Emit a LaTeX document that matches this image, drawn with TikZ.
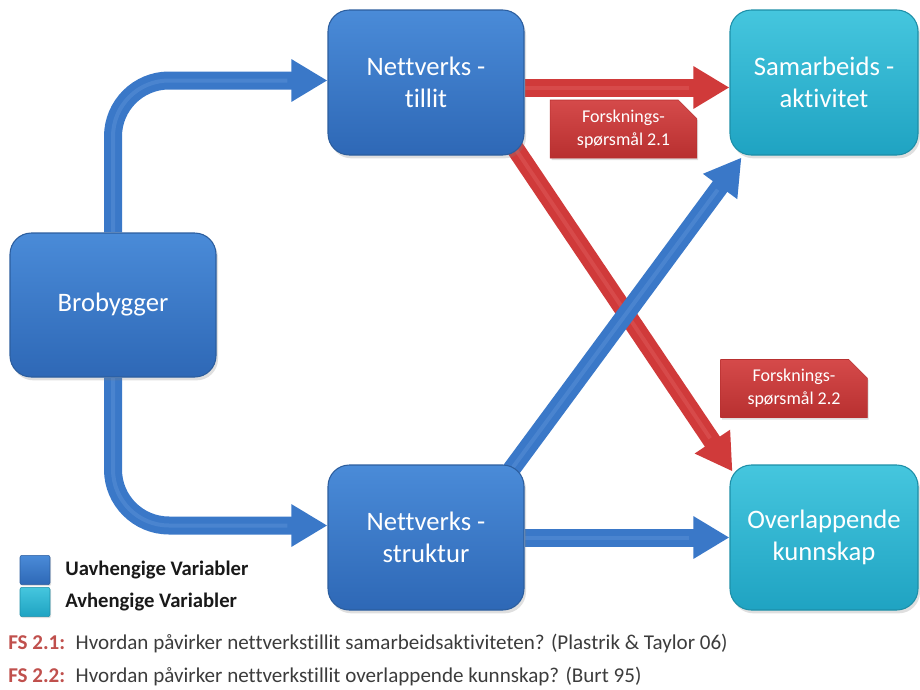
\documentclass[tikz,border=0pt]{standalone}
\usepackage{fontspec}
\setmainfont{Carlito}[Ligatures=NoCommon]
\usetikzlibrary{arrows.meta,calc,shadows,backgrounds,shapes.misc}

\definecolor{bluetop}{HTML}{4A8BD8}
\definecolor{bluebot}{HTML}{2E68B6}
\definecolor{blueedge}{HTML}{2C5E9E}
\definecolor{cyantop}{HTML}{45C6DE}
\definecolor{cyanbot}{HTML}{1FA3C2}
\definecolor{cyanedge}{HTML}{1D8FA8}
\definecolor{arrowblue}{HTML}{3A78C8}
\definecolor{arrowbluelight}{HTML}{6FA2E2}
\definecolor{arrowred}{HTML}{D03A3A}
\definecolor{arrowredlight}{HTML}{E87070}
\definecolor{calltop}{HTML}{D54A4A}
\definecolor{callbot}{HTML}{B83030}
\definecolor{fsred}{HTML}{C0504D}
\definecolor{bodygray}{HTML}{3C3C3C}

\begin{document}
\begin{tikzpicture}[x=0.75pt,y=-0.75pt,
  boxbase/.style={rounded corners=16pt, line width=0.8pt, text=white,
    font=\fontsize{20}{24}\selectfont, align=center, inner sep=0pt,
    minimum height=108.75pt,
    drop shadow={shadow xshift=1.5pt, shadow yshift=-2.5pt, opacity=0.25}},
  indepbox/.style={boxbase, draw=blueedge, top color=bluetop, bottom color=bluebot},
  depbox/.style={boxbase, draw=cyanedge, top color=cyantop, bottom color=cyanbot},
  bigarrow/.style={line width=13.5pt, -{Triangle[width=30pt,length=27pt]}},
  bluearrow/.style={bigarrow, draw=arrowblue,
    postaction={draw=arrowbluelight, line width=3pt, -, shorten >=30pt, opacity=0.3}},
  redarrow/.style={bigarrow, draw=arrowred,
    postaction={draw=arrowredlight, line width=3pt, -, shorten >=30pt, opacity=0.3}},
  callout/.style={chamfered rectangle, chamfered rectangle corners=north east,
    chamfered rectangle xsep=7pt, chamfered rectangle ysep=7pt,
    draw=callbot, top color=calltop, bottom color=callbot, text=white,
    font=\fontsize{13.5}{17}\selectfont, align=center, inner sep=0pt,
    minimum width=110pt, minimum height=43.5pt,
    drop shadow={shadow xshift=1pt, shadow yshift=-1.5pt, opacity=0.25}},
  legendsq/.style={rounded corners=1.5pt, minimum width=22.5pt, minimum height=22pt, inner sep=0pt,
    drop shadow={shadow xshift=0.8pt, shadow yshift=-1pt, opacity=0.25}},
  legendtxt/.style={anchor=west, font=\fontsize{15.5}{18}\selectfont\bfseries, text=black!90, inner sep=0pt},
  fstxt/.style={anchor=west, font=\fontsize{15.8}{18}\selectfont, text=bodygray, inner sep=0pt}
]
\useasboundingbox (0,0) rectangle (920,689);

% variable boxes
\node[indepbox, minimum width=154.5pt, minimum height=108pt] (bro) at (113,305) {Brobygger};
\node[indepbox, minimum width=147pt] (till) at (426,82.5) {Nettverks -\\tillit};
\node[indepbox, minimum width=147pt] (stru) at (426,537.5) {Nettverks -\\struktur};
\node[depbox, minimum width=141pt] (sam) at (824,82.5) {Samarbeids -\\aktivitet};
\node[depbox, minimum width=141pt] (over) at (824,537.5) {Overlappende\\kunnskap};

% connecting arrows behind the boxes
\begin{scope}[on background layer]
  \draw[bluearrow, rounded corners=42pt] (bro.north) |- ($(till.west)+(0,-2)$);
  \draw[bluearrow, rounded corners=42pt] (bro.south) |- ($(stru.west)+(0,-12)$);
  \draw[redarrow] ($(till.east)+(0,5)$) -- ($(sam.west)+(0,5)$);
  \draw[redarrow] ($(till.south east)+(-10,-8)$) -- ($(over.north west)+(3,7)$);
  \draw[bluearrow] ($(stru.north east)+(-14,6)$) -- ($(sam.south west)+(12,2)$);
  \draw[bluearrow] (stru.east) -- (over.west);
\end{scope}

% research question tags
\node[callout] (q1) at (623.5,129) {Forsknings-\\spørsmål 2.1};
\node[callout] (q2) at (794,388.5) {Forsknings-\\spørsmål 2.2};

% legend
\node[legendsq, draw=blueedge, top color=bluetop, bottom color=bluebot] (lg1) at (35,570) {};
\node[legendsq, draw=cyanedge, top color=cyantop, bottom color=cyanbot] (lg2) at (35,602) {};
\node[legendtxt] (lt1) at (65,570) {Uavhengige Variabler};
\node[legendtxt] (lt2) at (65,602) {Avhengige Variabler};

% research questions
\node[fstxt] (fs1) at (8,643) {\textcolor{fsred}{\bfseries FS 2.1:}\enspace Hvordan påvirker nettverkstillit samarbeidsaktiviteten? (Plastrik \& Taylor 06)};
\node[fstxt] (fs2) at (8,676) {\textcolor{fsred}{\bfseries FS 2.2:}\enspace Hvordan påvirker nettverkstillit overlappende kunnskap? (Burt 95)};
\end{tikzpicture}
\end{document}
